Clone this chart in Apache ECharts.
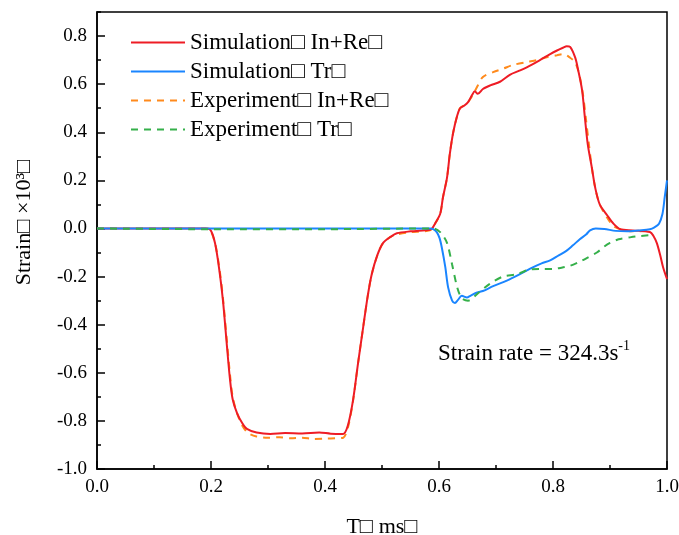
<!DOCTYPE html>
<html>
<head>
<meta charset="utf-8">
<script src="https://cdn.jsdelivr.net/npm/echarts@6/dist/echarts.min.js"></script>
<style>html,body{margin:0;padding:0;background:#fff}#c{width:679px;height:535px}</style>
</head>
<body>
<div id="c"></div>
<script>
// ---- data (T in ms, strain x10^3) ----
const legendNames = ['Simulation□ In+Re□', 'Simulation□ Tr□', 'Experiment□ In+Re□', 'Experiment□ Tr□'];
const xTickLabels = ['0.0', '0.2', '0.4', '0.6', '0.8', '1.0'];

const simInReT = [0, 0.19, 0.198, 0.207, 0.215, 0.221, 0.228, 0.233, 0.238, 0.246, 0.255, 0.263, 0.28, 0.304, 0.33, 0.36, 0.39, 0.41, 0.432, 0.44, 0.449, 0.458, 0.467, 0.475, 0.482, 0.492, 0.502, 0.515, 0.526, 0.55, 0.584, 0.588, 0.593, 0.602, 0.607, 0.614, 0.619, 0.625, 0.632, 0.637, 0.644, 0.651, 0.658, 0.663, 0.668, 0.677, 0.69, 0.707, 0.725, 0.74, 0.754, 0.777, 0.795, 0.807, 0.818, 0.824, 0.83, 0.839, 0.844, 0.851, 0.856, 0.861, 0.868, 0.874, 0.882, 0.895, 0.906, 0.918, 0.94, 0.97, 0.976, 0.982, 0.988, 0.993, 1.0];
const simInReV = [0, 0, -0.003, -0.06, -0.18, -0.30, -0.49, -0.62, -0.71, -0.77, -0.81, -0.833, -0.848, -0.854, -0.85, -0.852, -0.848, -0.853, -0.854, -0.82, -0.717, -0.56, -0.41, -0.28, -0.19, -0.11, -0.06, -0.035, -0.02, -0.012, -0.005, 0, 0.02, 0.06, 0.13, 0.21, 0.31, 0.40, 0.47, 0.50, 0.51, 0.525, 0.555, 0.57, 0.56, 0.58, 0.595, 0.61, 0.64, 0.655, 0.67, 0.70, 0.725, 0.74, 0.752, 0.758, 0.755, 0.71, 0.66, 0.575, 0.46, 0.35, 0.255, 0.17, 0.10, 0.055, 0.02, -0.003, -0.008, -0.015, -0.03, -0.06, -0.11, -0.16, -0.21];

const simTrT = [0, 0.584, 0.59, 0.596, 0.601, 0.605, 0.611, 0.616, 0.623, 0.628, 0.633, 0.64, 0.649, 0.655, 0.667, 0.677, 0.695, 0.719, 0.742, 0.76, 0.78, 0.795, 0.81, 0.824, 0.835, 0.847, 0.858, 0.865, 0.875, 0.89, 0.91, 0.93, 0.95, 0.97, 0.978, 0.986, 0.992, 0.996, 1.0];
const simTrV = [0, 0, -0.003, -0.015, -0.04, -0.08, -0.16, -0.245, -0.3, -0.31, -0.298, -0.28, -0.287, -0.28, -0.266, -0.26, -0.24, -0.217, -0.19, -0.167, -0.145, -0.133, -0.112, -0.092, -0.07, -0.045, -0.025, -0.008, 0, -0.002, -0.01, -0.012, -0.008, -0.003, 0.005, 0.02, 0.06, 0.13, 0.2];

const expInReT = [0, 0.19, 0.198, 0.207, 0.215, 0.221, 0.228, 0.233, 0.238, 0.246, 0.255, 0.265, 0.28, 0.3, 0.32, 0.34, 0.36, 0.38, 0.4, 0.42, 0.432, 0.44, 0.449, 0.458, 0.467, 0.475, 0.482, 0.492, 0.502, 0.515, 0.526, 0.55, 0.584, 0.593, 0.602, 0.607, 0.614, 0.619, 0.625, 0.632, 0.637, 0.649, 0.658, 0.666, 0.677, 0.695, 0.713, 0.73, 0.754, 0.772, 0.789, 0.807, 0.818, 0.83, 0.839, 0.847, 0.853, 0.858, 0.863, 0.868, 0.874, 0.882, 0.895, 0.906, 0.92, 0.94, 0.97];
const expInReV = [0, 0, -0.005, -0.06, -0.17, -0.29, -0.47, -0.6, -0.7, -0.77, -0.82, -0.85, -0.865, -0.87, -0.868, -0.872, -0.87, -0.875, -0.874, -0.872, -0.87, -0.83, -0.72, -0.56, -0.41, -0.28, -0.19, -0.11, -0.06, -0.035, -0.025, -0.015, -0.008, 0.02, 0.06, 0.13, 0.21, 0.31, 0.40, 0.47, 0.50, 0.52, 0.55, 0.585, 0.63, 0.65, 0.665, 0.68, 0.692, 0.70, 0.712, 0.72, 0.725, 0.71, 0.69, 0.63, 0.55, 0.45, 0.35, 0.255, 0.17, 0.10, 0.045, 0.01, -0.005, -0.012, -0.01];

const expTrT = [0, 0.2, 0.4, 0.58, 0.59, 0.602, 0.614, 0.623, 0.632, 0.64, 0.651, 0.668, 0.689, 0.712, 0.737, 0.76, 0.78, 0.8, 0.815, 0.83, 0.845, 0.86, 0.877, 0.89, 0.9, 0.915, 0.935, 0.95, 0.97];
const expTrV = [0, -0.003, -0.003, 0, 0, -0.015, -0.06, -0.15, -0.245, -0.29, -0.3, -0.27, -0.23, -0.2, -0.19, -0.17, -0.168, -0.168, -0.163, -0.155, -0.14, -0.122, -0.1, -0.075, -0.06, -0.045, -0.037, -0.032, -0.028];

const pairs = (t, v) => t.map((x, i) => [x, v[i]]);
const FONT = 'Liberation Serif';
const colors = ['#ee1c25', '#1a85ff', '#ff8a1c', '#35b04a'];

const chart = echarts.init(document.getElementById('c'), null, {renderer: 'canvas'});
chart.setOption({
  animation: false,
  backgroundColor: '#fff',
  grid: {left: 97, right: 12, top: 12, bottom: 66, outerBoundsMode: 'none', containLabel: false, show: true, borderColor: '#000', borderWidth: 1.5, backgroundColor: 'transparent'},
  title: {
    text: '{a|Strain rate = 324.3s}{b|-1}',
    left: 433, top: 334,
    textStyle: {
      fontWeight: 'normal',
      rich: {
        a: {fontFamily: FONT, fontSize: 23, fontWeight: 'normal', color: '#000'},
        b: {fontFamily: FONT, fontSize: 14, fontWeight: 'normal', color: '#000', padding: [0, 0, 15, 0]}
      }
    }
  },
  legend: {
    orient: 'vertical', left: 130, top: 31, padding: 0,
    itemWidth: 54, itemHeight: 14, itemGap: 6,
    itemStyle: {opacity: 0},
    textStyle: {fontFamily: FONT, fontSize: 23, color: '#000'},
    data: legendNames
  },
  xAxis: {
    type: 'value', min: 0, max: 1, interval: 0.2,
    name: 'T□ ms□', nameLocation: 'middle', nameGap: 47,
    nameTextStyle: {fontFamily: FONT, fontSize: 22, color: '#000'},
    axisLine: {onZero: false, lineStyle: {color: '#000', width: 1.5}},
    axisTick: {inside: true, length: 8, lineStyle: {color: '#000', width: 1.5}},
    minorTick: {show: true, splitNumber: 2, length: 4, lineStyle: {color: '#000', width: 1.5}},
    axisLabel: {fontFamily: FONT, fontSize: 19, color: '#000', margin: 9, formatter: v => xTickLabels[Math.round(v / 0.2)] ?? ''},
    splitLine: {show: false}
  },
  yAxis: [{
    type: 'value', min: -1, max: 0.9, interval: 0.1,
    axisLine: {show: true, onZero: false, lineStyle: {color: '#000', width: 1.5}},
    axisTick: {inside: true, length: 4, lineStyle: {color: '#000', width: 1.5}},
    axisLabel: {show: false},
    splitLine: {show: false}
  }, {
    type: 'value', min: -1, max: 0.9, interval: 0.2, position: 'left',
    name: 'Strain□ ×10³□', nameLocation: 'middle', nameGap: 62, nameRotate: 90,
    nameTextStyle: {fontFamily: FONT, fontSize: 22, color: '#000', padding: [0, 0, 0, 36]},
    axisLine: {show: false, onZero: false},
    axisTick: {inside: true, length: 8, lineStyle: {color: '#000', width: 1.5}},
    axisLabel: {fontFamily: FONT, fontSize: 19, color: '#000', margin: 10, showMaxLabel: false, formatter: v => v.toFixed(1)},
    splitLine: {show: false}
  }],
  series: [
    {name: legendNames[0], type: 'line', data: pairs(simInReT, simInReV), symbol: 'none', smooth: 0.3, color: colors[0], lineStyle: {width: 2, color: colors[0]}, z: 4},
    {name: legendNames[1], type: 'line', data: pairs(simTrT, simTrV), symbol: 'none', smooth: 0.3, color: colors[1], lineStyle: {width: 2, color: colors[1]}, z: 5},
    {name: legendNames[2], type: 'line', data: pairs(expInReT, expInReV), symbol: 'none', smooth: 0.3, color: colors[2], lineStyle: {width: 2, color: colors[2], type: [7, 6]}, z: 3},
    {name: legendNames[3], type: 'line', data: pairs(expTrT, expTrV), symbol: 'none', smooth: 0.3, color: colors[3], lineStyle: {width: 2, color: colors[3], type: [7, 6]}, z: 6}
  ]
});
</script>
</body>
</html>
